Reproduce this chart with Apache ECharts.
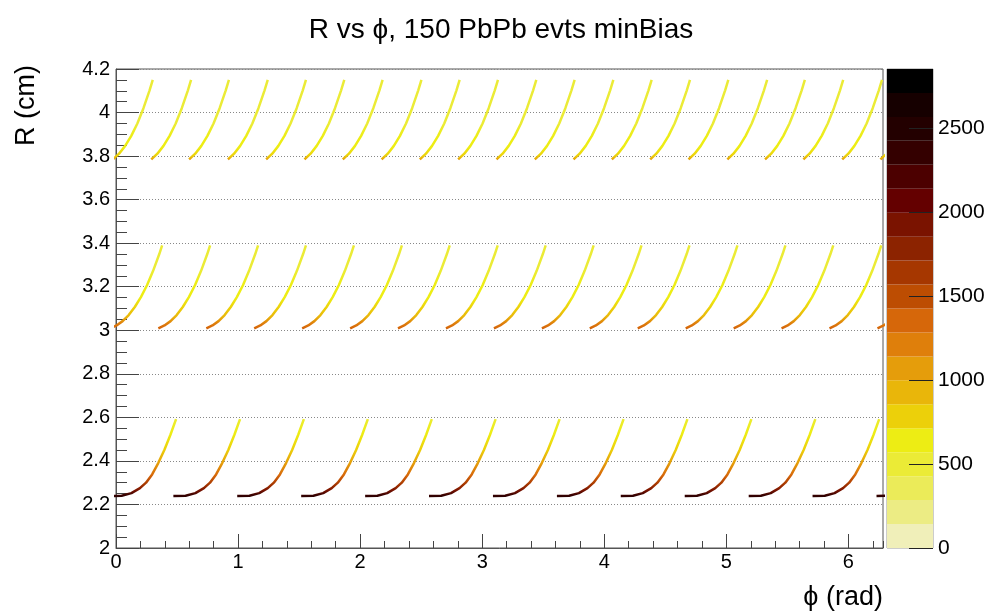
<!DOCTYPE html>
<html>
<head>
<meta charset="utf-8">
<script src="https://cdn.jsdelivr.net/npm/echarts@6/dist/echarts.min.js"></script>
<style>
  html, body { margin: 0; padding: 0; background: #fff; }
  #chart { width: 991px; height: 614px; }
</style>
</head>
<body>
<div id="chart"></div>
<script>
// axis ranges
const PHI_MAX = 6.2832;
const R_MIN = 2;
const R_MAX = 4.2;

// palette (bottom -> top), one entry per colour step
const paletteColors = [
  "#f0efb9", "#ecec84", "#ebeb59", "#ebeb36", "#eded14",
  "#ecd00a", "#e9b60a", "#e59d0b", "#df7f0b", "#d6670a",
  "#bd4d02", "#a63700", "#8c2300", "#7a1300", "#640000",
  "#4c0000", "#340000", "#230000", "#160000", "#000000"
];
const paletteStep = 142.5;   // z range 0..2850 split in 20
const zTickStep = 500;

// layer 0 (R ~ 2.24 cm, 12 staves)
const l0Starts = [-0.054, 0.470, 0.993, 1.517, 2.041, 2.564, 3.088, 3.612, 4.135, 4.659, 5.183, 5.706, 6.230];
const l0Dphi   = [0, 0.10, 0.18, 0.25, 0.30, 0.35, 0.40, 0.45, 0.50, 0.546];
const l0R      = [2.239, 2.240, 2.252, 2.275, 2.300, 2.338, 2.390, 2.450, 2.520, 2.592];
const l0Counts = [2300, 2500, 2400, 1900, 1600, 1300, 1000, 800, 650, 550];

// layer 1 (R ~ 3.01 cm, 16 staves)
const l1Starts = [-0.046, 0.347, 0.740, 1.132, 1.525, 1.918, 2.310, 2.703, 3.096, 3.489, 3.881, 4.274, 4.667, 5.060, 5.452, 5.845, 6.238];
const l1Dphi   = [0, 0.05, 0.10, 0.15, 0.20, 0.25, 0.30, 0.35, 0.40, 0.424];
const l1R      = [3.009, 3.022, 3.042, 3.070, 3.107, 3.152, 3.207, 3.273, 3.349, 3.390];
const l1Counts = [1500, 1350, 1150, 950, 800, 700, 620, 560, 500, 450];

// layer 2 (R ~ 3.79 cm, 20 staves)
const l2Starts = [-0.025, 0.289, 0.599, 0.917, 1.230, 1.544, 1.858, 2.176, 2.489, 2.803, 3.117, 3.431, 3.748, 4.062, 4.376, 4.690, 5.008, 5.317, 5.631, 5.949, 6.262];
const l2Dphi   = [0, 0.05, 0.10, 0.15, 0.20, 0.25, 0.30, 0.326];
const l2R      = [3.785, 3.811, 3.847, 3.893, 3.950, 4.020, 4.102, 4.150];
const l2Counts = [1150, 800, 680, 600, 550, 520, 480, 450];

const FONT = "'Liberation Sans', Arial, sans-serif";

function colorOf(z) {
  let i = Math.floor(z / paletteStep);
  if (i < 0) i = 0;
  if (i > paletteColors.length - 1) i = paletteColors.length - 1;
  return paletteColors[i];
}

function layerSeries(starts, dphi, rr, counts) {
  const rLo = rr[0], rHi = rr[rr.length - 1];
  const stops = rr.map((r, i) => ({ offset: (r - rLo) / (rHi - rLo), color: colorOf(counts[i]) }));
  return starts.map(s => ({
    type: "line",
    xAxisIndex: 0,
    yAxisIndex: 0,
    data: dphi.map((d, i) => [s + d, rr[i]]),
    showSymbol: false,
    symbol: "none",
    silent: true,
    z: 3,
    lineStyle: {
      width: 2.5,
      color: { type: "linear", x: 0, y: 1, x2: 0, y2: 0, colorStops: stops }
    }
  }));
}

const series = []
  .concat(layerSeries(l0Starts, l0Dphi, l0R, l0Counts))
  .concat(layerSeries(l1Starts, l1Dphi, l1R, l1Counts))
  .concat(layerSeries(l2Starts, l2Dphi, l2R, l2Counts));

// colour bar
paletteColors.forEach(c => {
  series.push({
    type: "bar",
    xAxisIndex: 2,
    yAxisIndex: 2,
    stack: "pal",
    data: [paletteStep],
    barWidth: "100%",
    silent: true,
    z: 1,
    itemStyle: { color: c }
  });
});

const chart = echarts.init(document.getElementById("chart"), null, { renderer: "canvas" });

chart.setOption({
  animation: false,
  textStyle: { fontFamily: FONT },
  grid: [
    { left: 116, top: 69, width: 767, height: 479, show: true, borderColor: "#555", borderWidth: 1, backgroundColor: "transparent" },
    { left: 887, top: 69, width: 46, height: 479, show: true, borderColor: "#999", borderWidth: 1, backgroundColor: "transparent" }
  ],
  xAxis: [
    {
      gridIndex: 0, type: "value", min: 0, max: PHI_MAX, interval: 1, position: "bottom",
      axisLine: { show: true, lineStyle: { color: "#555" } },
      axisTick: { inside: true, length: 14, lineStyle: { color: "#444" } },
      axisLabel: {
        margin: 4, fontSize: 20, color: "#000", fontFamily: FONT, showMaxLabel: false,
        formatter: v => (Math.abs(v - Math.round(v)) < 1e-6 ? String(Math.round(v)) : "")
      },
      splitLine: { show: false }
    },
    {
      gridIndex: 0, type: "value", min: 0, max: PHI_MAX, interval: 0.2, position: "bottom",
      axisLine: { show: false },
      axisTick: { inside: true, length: 7, lineStyle: { color: "#444" } },
      axisLabel: { show: false },
      splitLine: { show: false }
    },
    { gridIndex: 1, type: "category", data: ["z"], show: false }
  ],
  yAxis: [
    {
      gridIndex: 0, type: "value", min: R_MIN, max: R_MAX, interval: 0.2, position: "left",
      axisLine: { show: true, lineStyle: { color: "#555" } },
      axisTick: { inside: true, length: 23, lineStyle: { color: "#444" } },
      axisLabel: { margin: 6, fontSize: 20, color: "#000", fontFamily: FONT },
      splitLine: { show: true, lineStyle: { color: "#888", width: 1, type: [1, 2] } }
    },
    {
      gridIndex: 0, type: "value", min: R_MIN, max: R_MAX, interval: 0.05, position: "left",
      axisLine: { show: false },
      axisTick: { inside: true, length: 11, lineStyle: { color: "#444" } },
      axisLabel: { show: false },
      splitLine: { show: false }
    },
    {
      gridIndex: 1, type: "value", min: 0, max: paletteStep * paletteColors.length,
      interval: zTickStep, position: "right", z: 5,
      axisLine: { show: false },
      axisTick: { show: true, inside: true, length: 24, lineStyle: { color: "#222", width: 1 } },
      axisLabel: {
        margin: 5, fontSize: 21, color: "#000", fontFamily: FONT, showMaxLabel: false,
        formatter: v => (v % zTickStep === 0 ? String(v) : "")
      },
      splitLine: { show: false }
    }
  ],
  graphic: [
    {
      type: "text", x: 501, y: 30, z: 10,
      style: { text: "R vs \u03d5, 150 PbPb evts minBias", font: "28px " + FONT, fill: "#000", align: "center", verticalAlign: "middle" }
    },
    {
      type: "text", x: 27, y: 65, rotation: Math.PI / 2, z: 10,
      style: { text: "R (cm)", font: "27px " + FONT, fill: "#000", align: "right", verticalAlign: "middle" }
    },
    {
      type: "text", x: 883, y: 598, z: 10,
      style: { text: "\u03d5 (rad)", font: "27px " + FONT, fill: "#000", align: "right", verticalAlign: "middle" }
    }
  ],
  series: series
});
</script>
</body>
</html>
